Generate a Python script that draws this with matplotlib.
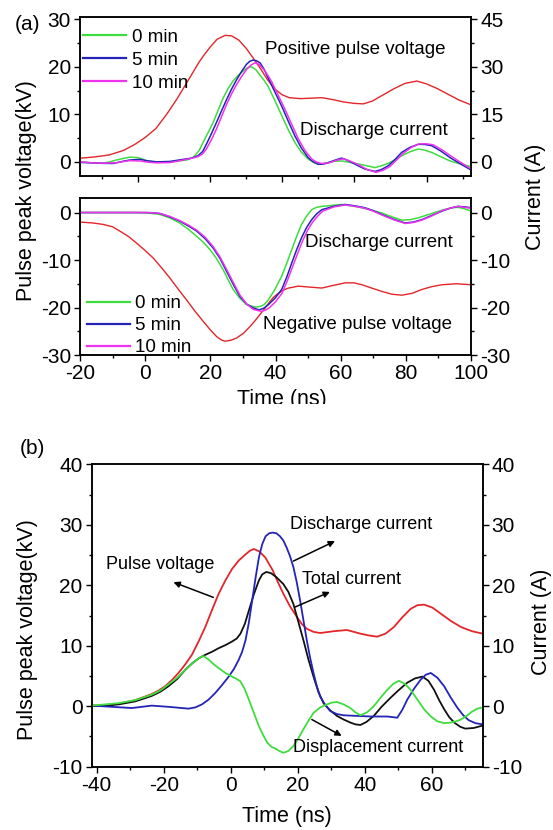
import matplotlib
matplotlib.use("Agg")
import matplotlib.pyplot as plt
from matplotlib.ticker import MultipleLocator
from matplotlib.patches import Rectangle
from matplotlib.lines import Line2D

plt.rcParams['font.family'] = ['Liberation Sans', 'DejaVu Sans']
plt.rcParams['axes.unicode_minus'] = False

# ---------------- data: panel (a), positive pulse ----------------
pos_volt_t = [-16.0, -12.0, -8.0, -4.0, -1.0, 2.0, 5.0, 8.0, 11.0, 14.0, 17.0, 18.1, 20.0,
              22.0, 24.2, 26.0, 28.0, 30.0, 32.0, 34.0, 36.0, 38.0, 40.0, 42.0, 45.0,
              48.0, 51.0, 54.0, 57.0, 60.0, 62.5, 65.0, 68.0, 71.0, 74.0, 77.3, 80.0,
              83.0, 86.0, 89.0, 92.3]
pos_volt_kv = [0.77, 1.05, 1.45, 2.4, 3.6, 5.1, 7.0, 10.0, 13.4, 17.2, 21.0, 22.2, 24.1,
               25.8, 26.6, 26.5, 25.6, 23.9, 21.8, 19.6, 17.2, 15.3, 14.1, 13.5, 13.3,
               13.4, 13.5, 13.1, 12.6, 12.3, 12.2, 12.8, 14.1, 15.4, 16.5, 17.0, 16.4,
               15.4, 14.2, 13.0, 12.0]

pos_0min_t = [-16.0, -12.5, -9.6, -7.5, -5.9, -4.0, -2.2, 0.1, 1.5, 2.4, 5.5, 8.9, 11.5,
              13.5, 15.0, 15.8, 17.0, 18.1, 19.5, 20.9, 22.3, 23.7, 25.0, 26.4, 27.8,
              29.2, 30.4, 31.5, 32.7, 33.9, 35.0, 36.1, 38.0, 39.9, 41.7, 43.5, 45.3,
              47.2, 48.6, 50.0, 51.5, 52.8, 54.5, 56.5, 58.5, 60.2, 63.0, 65.7, 67.5,
              69.4, 71.3, 73.1, 75.4, 77.7, 79.5, 81.4, 84.0, 86.5, 89.5, 92.3]
pos_0min_a = [0.0, -0.3, -0.45, 0.1, 0.6, 1.1, 1.5, 1.35, 0.8, 0.3, 0.0, 0.0, 0.3,
              0.6, 1.2, 1.95, 3.6, 6.15, 9.3, 12.45, 16.4, 20.25, 23.1, 25.5, 27.3,
              28.65, 29.7, 30.0, 29.1, 27.3, 25.7, 23.85, 19.3, 14.55, 10.1, 6.15, 3.1,
              0.9, -0.1, -0.75, -0.5, -0.15, 0.2, 0.3, -0.1, -0.45, -1.1, -1.8, -1.2,
              -0.45, 0.7, 1.95, 3.2, 4.05, 3.7, 3.0, 1.6, 0.3, -0.7, -1.5]

pos_5min_t = [-16.0, -12.5, -9.6, -6.8, -4.5, -2.2, 0.6, 3.0, 5.2, 8.9, 12.6, 15.0, 16.7,
              18.0, 19.0, 20.4, 21.8, 23.2, 24.6, 26.0, 27.4, 28.8, 30.1, 31.0, 31.9,
              32.9, 33.9, 35.0, 36.1, 38.0, 39.9, 41.7, 43.5, 45.3, 47.2, 48.6, 50.0,
              51.2, 52.3, 54.5, 56.5, 57.9, 59.2, 61.0, 62.9, 65.7, 67.5, 69.4, 71.2,
              73.1, 75.4, 77.7, 79.5, 81.4, 84.0, 86.5, 89.5, 92.3]
pos_5min_a = [-0.15, -0.3, -0.45, -0.5, 0.1, 0.6, 0.8, 0.3, 0.0, 0.15, 0.8, 1.2, 1.95,
              3.3, 5.55, 8.9, 12.45, 16.1, 19.65, 23.0, 25.95, 28.6, 30.75, 31.7, 32.1,
              31.9, 31.2, 29.2, 26.5, 22.0, 17.5, 12.8, 8.25, 4.4, 1.35, 0.0, -0.75,
              -0.7, -0.45, 0.5, 1.2, 0.6, -0.15, -1.2, -2.25, -3.0, -2.4, -1.2, 0.7,
              3.0, 4.6, 5.55, 5.5, 5.1, 3.4, 1.35, -0.7, -2.55]

pos_10min_t = [-16.0, -12.5, -9.6, -6.0, -4.0, -2.2, 0.6, 3.0, 5.2, 8.9, 12.6, 15.0, 16.7,
               18.0, 19.0, 20.4, 21.8, 23.2, 24.6, 26.0, 27.4, 28.8, 30.1, 31.3, 32.4,
               33.6, 35.3, 37.0, 38.9, 40.8, 42.7, 44.5, 46.3, 48.2, 49.6, 50.9, 53.0,
               55.0, 57.0, 58.5, 60.0, 61.8, 63.5, 66.0, 67.8, 69.8, 71.6, 73.5, 75.8,
               78.0, 80.0, 81.8, 84.3, 86.8, 89.5, 92.3]
pos_10min_a = [0.0, -0.3, -0.4, -0.3, 0.1, 0.4, 0.3, -0.1, -0.3, -0.2, 0.6, 1.2, 1.65,
               2.6, 4.05, 7.0, 10.35, 14.3, 18.15, 21.5, 24.45, 27.0, 29.1, 30.5, 31.2,
               30.8, 28.6, 25.5, 21.0, 16.5, 11.7, 7.2, 3.6, 0.9, -0.1, -0.5, -0.3,
               0.5, 1.0, 0.4, -0.3, -1.3, -2.4, -3.3, -2.7, -1.5, 0.5, 2.7, 4.6,
               5.7, 5.7, 5.4, 3.8, 1.8, -0.2, -2.2]

# ---------------- data: panel (a), negative pulse ----------------
neg_volt_t = [-20, -16, -12.9, -10, -7.8, -5.2, -2.7, 0, 2.5, 5.0, 7.6, 10.1, 12.7, 15.2,
              17.8, 20, 21.9, 23.3, 24.5, 26.3, 28.1, 30.2, 32.2, 33.7, 35.2, 36.8, 38.0,
              39.3, 40.5, 42.2, 44.0, 47.0, 50.5, 54.2, 58, 61.4, 64, 66.5, 69.5, 72.6,
              75.7, 78.8, 82, 84.9, 88, 91.1, 95.5, 100]
neg_volt_kv = [-2.0, -2.2, -2.5, -3.0, -3.9, -5.0, -6.4, -8.0, -9.6, -11.6, -13.8, -16.1,
               -18.4, -20.7, -22.9, -24.7, -26.1, -26.8, -27.1, -26.9, -26.4, -25.4, -24.0,
               -22.8, -21.5, -20.1, -19.0, -17.9, -17.2, -16.4, -15.9, -15.5, -15.7, -15.9,
               -15.3, -14.8, -14.8, -15.2, -15.9, -16.6, -17.2, -17.4, -17.0, -16.2, -15.6,
               -15.2, -15.0, -15.2]

neg_0min_t = [-20, -10, -2.7, 1.0, 4.5, 7.5, 10.6, 13.2, 15.8, 17.9, 19.9, 22, 23.9, 25.5,
              27.0, 29.0, 31.1, 33.7, 35.2, 36.5, 37.8, 39.8, 41.9, 43.5, 45.0, 46.5, 48.0,
              49.5, 51.1, 52.6, 54.2, 57.2, 60.3, 63.4, 66.5, 69.5, 72.6, 75.7, 78.8, 81.3,
              83.9, 87.5, 91.1, 94, 96, 98, 100]
neg_0min_a = [0, 0, 0, -0.1, -0.4, -1.1, -2.2, -3.5, -5.0, -6.3, -7.8, -9.8, -12.0, -14.2,
              -16.2, -18.0, -19.4, -19.9, -19.8, -19.4, -18.4, -16.2, -13.4, -10.6, -7.8,
              -5.0, -2.5, -0.8, 0.6, 1.1, 1.3, 1.5, 1.7, 1.4, 1.0, 0.5, -0.1, -0.9, -1.6,
              -1.5, -1.1, -0.3, 0.5, 1.0, 1.1, 0.8, 0.3]

neg_5min_t = [-20, -10, 0, 2.5, 4.5, 7.5, 10.6, 13.2, 15.8, 18.4, 20.9, 23.0, 25.0, 27.1,
              29.1, 31.2, 33.2, 35.0, 36.5, 37.8, 39.9, 41.9, 43.5, 45.0, 46.5, 48.0, 49.5,
              51.1, 52.6, 54.2, 57.8, 61.4, 64.5, 67.5, 70.0, 72.6, 76.2, 79.8, 82.3, 84.9,
              88, 91.1, 94, 96, 98, 100]
neg_5min_a = [0, 0, 0, -0.05, -0.2, -0.9, -1.8, -2.8, -3.9, -5.5, -7.5, -9.7, -12.4, -15.2,
              -17.7, -19.3, -20.1, -20.5, -20.1, -19.4, -18.0, -16.2, -13.5, -10.6, -7.8,
              -5.3, -3.2, -1.5, -0.3, 0.6, 1.3, 1.7, 1.4, 1.0, 0.4, -0.4, -1.4, -2.2, -2.0,
              -1.5, -0.6, 0.3, 1.0, 1.3, 1.2, 1.0]

neg_10min_t = [-20, -10, 0, 2.5, 4.5, 7.5, 10.6, 13.2, 15.8, 18.4, 20.9, 23.0, 25.0, 27.1,
               29.1, 31.2, 33.2, 35.5, 36.8, 38.0, 40.0, 42.0, 43.6, 45.2, 46.8, 48.3, 49.8,
               51.4, 53.0, 54.5, 58.0, 61.4, 64.5, 67.5, 70.0, 72.6, 76.2, 79.8, 82.3, 84.9,
               88, 91.1, 94, 96, 98, 100]
neg_10min_a = [0, 0, 0, -0.05, -0.2, -0.8, -1.7, -2.6, -3.7, -5.2, -7.2, -9.4, -12.0, -14.8,
               -17.4, -19.3, -20.4, -20.8, -20.6, -20.1, -18.8, -17.0, -14.4, -11.5, -8.6,
               -6.0, -3.8, -2.0, -0.7, 0.3, 1.2, 1.6, 1.3, 0.9, 0.3, -0.5, -1.5, -2.3, -2.1,
               -1.6, -0.7, 0.4, 1.0, 1.3, 1.1, 0.9]

# ---------------- data: panel (b) ----------------
b_volt_t = [-41.5, -37.5, -33.5, -28.5, -23.6, -21.5, -19.6, -17.6, -15.6, -13.6, -11.6,
            -9.6, -7.6, -5.6, -3.6, -1.6, 0.4, 2.4, 4.4, 5.7, 6.9, 8.5, 10.3, 12.5, 14.0,
            15.7, 17.7, 19.7, 21.2, 22.7, 24.7, 26.7, 30.7, 34.7, 38.7, 41.2, 43.7, 46.2,
            48.7, 51.2, 53.7, 55.7, 57.7, 60.2, 62.7, 65.7, 68.7, 72.0, 75.2]
b_volt_kv = [0.1, 0.2, 0.4, 1.0, 2.0, 2.6, 3.3, 4.3, 5.5, 6.9, 8.5,
             10.7, 13.1, 15.9, 18.6, 20.8, 22.7, 24.1, 25.1, 25.7, 26.0, 25.6, 24.6, 22.5, 20.6,
             18.6, 16.5, 14.8, 13.6, 12.8, 12.3, 12.1, 12.4, 12.6, 12.0, 11.7, 11.5, 12.0,
             13.1, 14.7, 16.1, 16.7, 16.8, 16.3, 15.3, 14.1, 13.1, 12.4, 12.0]

b_total_t = [-41.5, -37.0, -33.5, -28.5, -23.6, -21.0, -18.6, -16.0, -13.6, -11.5, -9.6,
             -7.6, -5.6, -3.6, -1.6, 0.4, 1.8, 2.9, 4.2, 5.4, 6.9, 8.4, 9.4, 10.6, 12.0,
             13.5, 15.7, 17.2, 18.7, 20.2, 21.7, 23.2, 24.7, 26.2, 27.7, 29.7, 31.7, 33.7,
             35.7, 37.2, 38.7, 40.5, 42.7, 45.0, 47.7, 50.0, 52.7, 55.0, 57.2, 59.0, 60.7,
             62.2, 63.7, 65.2, 66.7, 68.5, 70.0, 72.5, 75.2]
b_total_a = [0.0, 0.1, 0.3, 0.8, 1.7, 2.4, 3.3, 4.5, 6.0, 7.1, 7.9,
             8.5, 9.0, 9.6, 10.1, 10.7, 11.2, 12.0, 13.6, 15.8, 18.5, 20.8, 21.8, 22.2, 22.0,
             21.4, 20.2, 18.9, 16.9, 13.9, 10.9, 7.7, 4.9, 2.3, 0.5, -0.7, -1.6, -2.2,
             -2.7, -3.0, -3.1, -2.6, -1.6, -0.1, 1.4, 2.6, 3.9, 4.6, 4.9, 4.2, 2.7,
             1.0, -0.5, -1.8, -2.7, -3.4, -3.7, -3.6, -3.2]

b_dis_t = [-41.5, -35.5, -29.5, -23.6, -18.6, -12.6, -10.6, -8.6, -6.6, -4.6, -2.6, -0.6,
           1.0, 2.4, 3.4, 4.4, 5.4, 6.4, 7.4, 8.4, 9.4, 10.4, 11.5, 12.5, 13.6, 14.7, 15.7,
           16.7, 17.7, 18.7, 19.7, 20.7, 21.7, 22.7, 23.7, 24.7, 25.7, 26.7, 28.2, 29.7,
           31.7, 33.7, 37.7, 41.7, 46.7, 49.7, 51.2, 52.7, 54.7, 56.7, 58.2, 59.7, 61.7,
           63.7, 65.7, 67.7, 69.4, 71.0, 73.0, 75.2]
b_dis_a = [0.1, -0.1, -0.3, 0.1, -0.1, -0.4, -0.2, 0.3, 1.1, 2.2, 3.5, 4.9,
           6.2, 7.7, 9.0, 10.9, 13.8, 17.5, 21.2, 24.6, 26.8, 28.1, 28.6, 28.7, 28.6, 28.1, 27.4,
           26.2, 24.8, 23.0, 20.5, 17.5, 14.2, 10.9, 8.0, 5.5, 3.3, 1.6, 0.2, -0.8,
           -1.3, -1.5, -1.6, -1.7, -1.7, -1.9, -0.6, 1.1, 2.9, 4.4, 5.2, 5.5, 4.7,
           3.3, 1.4, -0.3, -1.5, -2.3, -2.8, -3.0]

b_disp_t = [-41.5, -37.5, -33.5, -28.5, -23.6, -21.0, -18.6, -16.0, -13.6, -11.0, -9.1, -8.1,
            -6.6, -5.0, -3.6, -1.6, 0.4, 1.8, 2.9, 4.2, 5.4, 6.9, 8.4, 9.7, 10.9, 12.1, 13.3,
            14.5, 15.7, 17.2, 18.7, 20.2, 21.7, 23.2, 24.7, 26.7, 28.7, 30.2, 31.7, 33.7,
            35.7, 37.2, 38.7, 40.7, 42.7, 44.7, 46.7, 48.5, 50.2, 52.0, 53.7, 55.7, 57.7,
            59.7, 61.7, 63.7, 65.7, 67.2, 68.7, 70.4, 72.0, 73.6, 75.2]
b_disp_a = [0.1, 0.3, 0.5, 1.0, 1.9, 2.6, 3.6, 4.7, 6.0, 7.3, 8.1, 8.3,
            7.7, 6.9, 6.3, 5.5, 4.9, 4.5, 4.1, 2.8, 1.1, -1.1, -3.3, -4.8, -6.0, -6.7, -7.0,
            -7.4, -7.7, -7.4, -6.6, -5.3, -3.8, -2.4, -1.1, -0.2, 0.3, 0.6, 0.7, 0.3,
            -0.3, -1.0, -1.5, -1.0, 0.0, 1.4, 2.7, 3.7, 4.2, 3.7, 2.7, 1.1, -0.5,
            -1.7, -2.5, -2.8, -2.7, -2.5, -2.2, -1.6, -0.9, -0.4, -0.2]

legend_labels = ['0 min', '5 min', '10 min']

# ---------------- styling ----------------
RED = '#e3262b'
GREEN = '#3fdc3f'
BLUE = '#2424b8'
MAGENTA = '#ee33ee'
BLACK = '#111111'

W, H = 553, 830
fig = plt.figure(figsize=(W / 100, H / 100), dpi=100)


def box(left, top, right, bottom):
    return [left / W, 1 - bottom / H, (right - left) / W, (bottom - top) / H]


def style(ax, labelsize=15):
    for s in ax.spines.values():
        s.set_linewidth(1.1)
    ax.tick_params(which='both', direction='out', width=1.0, labelsize=labelsize, pad=2)
    ax.tick_params(which='major', length=4.5)
    ax.tick_params(which='minor', length=2.5)


# ---- (a) upper: positive pulse ----
ax1 = fig.add_axes(box(80, 17.3, 471, 175.7))
ax1r = ax1.twinx()
ax1.set_xlim(-16, 92.3)
ax1.set_ylim(-2.9, 30.4)
ax1r.set_ylim(-2.9 * 1.5, 30.4 * 1.5)
ax1.xaxis.set_major_locator(MultipleLocator(20))
ax1.xaxis.set_minor_locator(MultipleLocator(10))
ax1.yaxis.set_major_locator(MultipleLocator(10))
ax1.yaxis.set_minor_locator(MultipleLocator(5))
ax1r.yaxis.set_major_locator(MultipleLocator(15))
ax1r.yaxis.set_minor_locator(MultipleLocator(7.5))
ax1.tick_params(labelbottom=False)
style(ax1)
style(ax1r)
ax1.plot(pos_volt_t, pos_volt_kv, color=RED, lw=1.0)
ax1r.plot(pos_0min_t, pos_0min_a, color=GREEN, lw=1.1)
ax1r.plot(pos_5min_t, pos_5min_a, color=BLUE, lw=1.1)
ax1r.plot(pos_10min_t, pos_10min_a, color=MAGENTA, lw=1.1)
ax1.text(35.2, 23.6, 'Positive pulse voltage', fontsize=13.5, va='center', ha='left')
ax1.text(44.9, 6.5, 'Discharge current', fontsize=13.5, va='center', ha='left')

handles = [Line2D([], [], color=c, lw=1.6) for c in (GREEN, BLUE, MAGENTA)]
ax1r.legend(handles, legend_labels, loc='upper left', bbox_to_anchor=(83 / W, 1 - 28.5 / H),
            bbox_transform=fig.transFigure, frameon=False, borderpad=0, borderaxespad=0,
            handlelength=2.3, handletextpad=0.3, labelspacing=0.32, fontsize=13.5)

# ---- (a) lower: negative pulse ----
ax2 = fig.add_axes(box(80, 198.3, 471, 355))
ax2r = ax2.twinx()
ax2.set_xlim(-20, 100)
ax2.set_ylim(-30, 3)
ax2r.set_ylim(-30, 3)
ax2.xaxis.set_major_locator(MultipleLocator(20))
ax2.xaxis.set_minor_locator(MultipleLocator(10))
for a in (ax2, ax2r):
    a.yaxis.set_major_locator(MultipleLocator(10))
    a.yaxis.set_minor_locator(MultipleLocator(5))
    style(a)
ax2.plot(neg_volt_t, neg_volt_kv, color=RED, lw=1.0)
ax2r.plot(neg_0min_t, neg_0min_a, color=GREEN, lw=1.1)
ax2r.plot(neg_5min_t, neg_5min_a, color=BLUE, lw=1.1)
ax2r.plot(neg_10min_t, neg_10min_a, color=MAGENTA, lw=1.1)
ax2.text(49.1, -6.4, 'Discharge current', fontsize=13.5, va='center', ha='left')
ax2.text(36.3, -23.6, 'Negative pulse voltage', fontsize=13.5, va='center', ha='left')

handles = [Line2D([], [], color=c, lw=1.6) for c in (GREEN, BLUE, MAGENTA)]
ax2r.legend(handles, legend_labels, loc='upper left', bbox_to_anchor=(86.5 / W, 1 - 295 / H),
            bbox_transform=fig.transFigure, frameon=False, borderpad=0, borderaxespad=0,
            handlelength=2.3, handletextpad=0.3, labelspacing=0.26, fontsize=13.5)

fig.text(27 / W, 1 - 191 / H, 'Pulse peak voltage(kV)', rotation=90, ha='center', va='center',
         fontsize=15.5)
fig.text(535 / W, 1 - 197 / H, 'Current (A)', rotation=90, ha='center', va='center', fontsize=15.5)
fig.text(281.7 / W, 1 - 399.5 / H, 'Time (ns)', ha='center', va='center', fontsize=15.5)
fig.text(27 / W, 1 - 24 / H, '(a)', ha='center', va='center', fontsize=15)
# the lower edge of the panel (a) caption is trimmed by the gap between the panels
fig.patches.append(Rectangle((0, 1 - 432 / H), 1, 28 / H, transform=fig.transFigure,
                             facecolor='white', edgecolor='none', zorder=10))

# ---- (b) ----
ax3 = fig.add_axes(box(91.7, 464.3, 482.7, 766.7))
ax3r = ax3.twinx()
ax3.set_xlim(-41.5, 75.2)
ax3.xaxis.set_major_locator(MultipleLocator(20))
ax3.xaxis.set_minor_locator(MultipleLocator(10))
for a in (ax3, ax3r):
    a.set_ylim(-10, 40)
    a.yaxis.set_major_locator(MultipleLocator(10))
    a.yaxis.set_minor_locator(MultipleLocator(5))
    style(a)
ax3.plot(b_volt_t, b_volt_kv, color=RED, lw=1.3)
ax3r.plot(b_total_t, b_total_a, color=BLACK, lw=1.3)
ax3r.plot(b_dis_t, b_dis_a, color=BLUE, lw=1.3)
ax3r.plot(b_disp_t, b_disp_a, color=GREEN, lw=1.3)

arrow = dict(arrowstyle='-|>', color='black', lw=1.1, mutation_scale=9, shrinkA=0, shrinkB=0)
ax3r.text(-37.3, 23.5, 'Pulse voltage', fontsize=13, va='center', ha='left')
ax3r.annotate('', xy=(-17.1, 20.5), xytext=(-5.2, 18.0), arrowprops=arrow)
ax3r.text(17.7, 30.1, 'Discharge current', fontsize=13, va='center', ha='left')
ax3r.annotate('', xy=(31.1, 27.3), xytext=(18.7, 24.0), arrowprops=arrow)
ax3r.text(21.2, 21.0, 'Total current', fontsize=13, va='center', ha='left')
ax3r.annotate('', xy=(29.6, 18.9), xytext=(19.2, 16.4), arrowprops=arrow)
ax3r.text(18.7, -6.8, 'Displacement current', fontsize=13, va='center', ha='left')
ax3r.annotate('', xy=(33.1, -4.9), xytext=(24.2, -2.2), arrowprops=arrow)

fig.text(28 / W, 1 - 630 / H, 'Pulse peak voltage(kV)', rotation=90, ha='center', va='center',
         fontsize=15.5)
fig.text(541.7 / W, 1 - 622 / H, 'Current (A)', rotation=90, ha='center', va='center',
         fontsize=15.5)
fig.text(287 / W, 1 - 816.7 / H, 'Time (ns)', ha='center', va='center', fontsize=15.5)
fig.text(32 / W, 1 - 448 / H, '(b)', ha='center', va='center', fontsize=15)

fig.savefig('out.png', dpi=100)
